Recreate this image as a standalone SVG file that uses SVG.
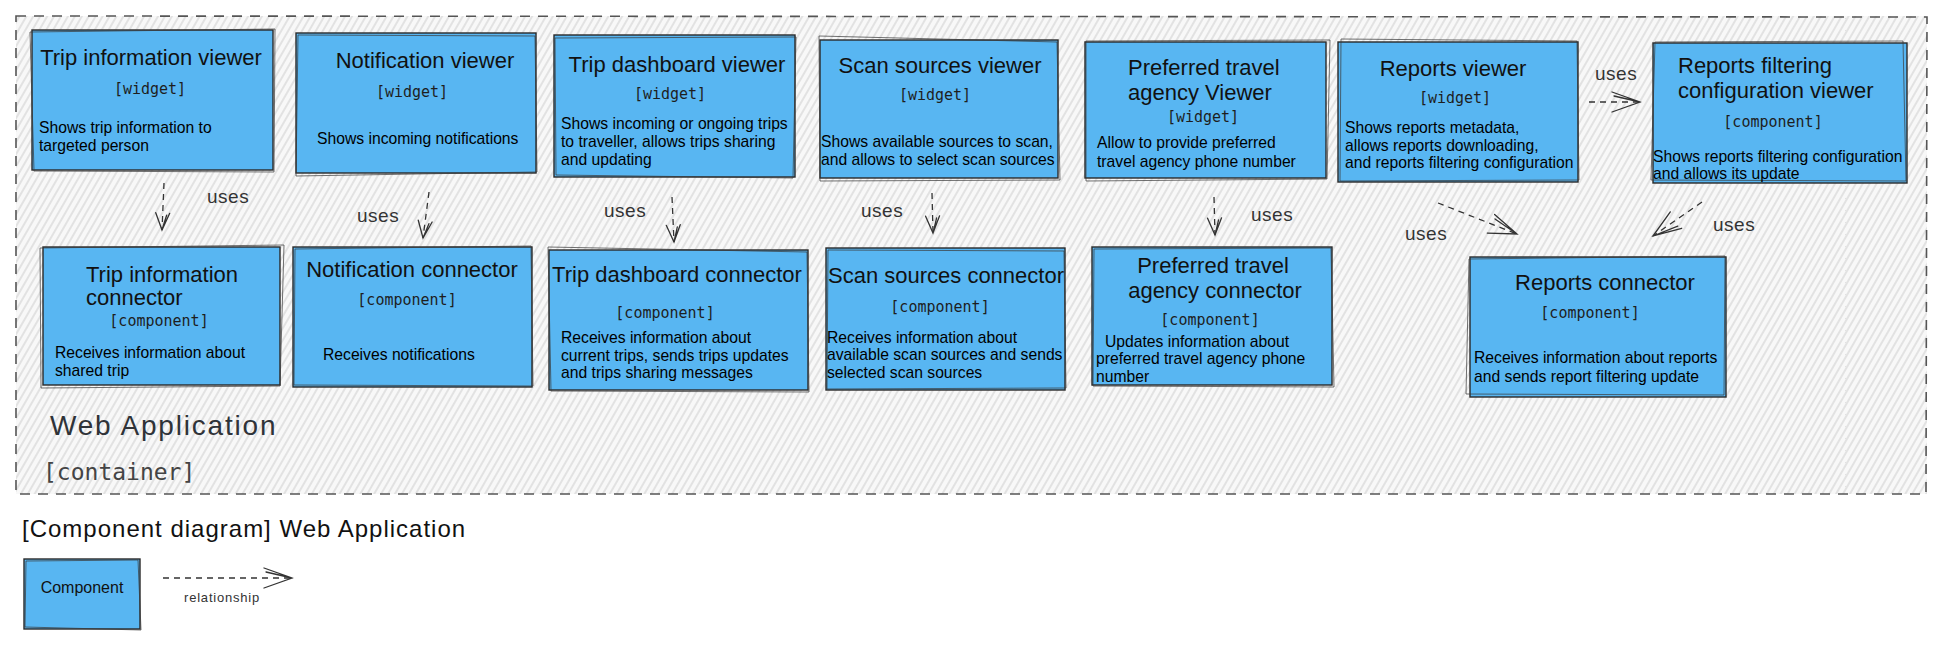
<svg xmlns="http://www.w3.org/2000/svg" width="1946" height="647" viewBox="0 0 1946 647">
<defs>
<pattern id="hatch" width="6" height="6" patternUnits="userSpaceOnUse" patternTransform="rotate(30)">
<rect width="6" height="6" fill="#f8f8f8"/>
<line x1="1" y1="0" x2="1" y2="6" stroke="#cdcdcd" stroke-width="1"/>
</pattern>
<marker id="arr" viewBox="-22 -12 26 24" markerWidth="26" markerHeight="24" refX="0" refY="0" orient="auto" markerUnits="userSpaceOnUse">
<path d="M-17,-7 L0,0 L-17,7 M-15,-4 L0,0" fill="none" stroke="#333" stroke-width="1.3" stroke-linecap="round"/>
</marker>
<marker id="arrL" viewBox="-32 -14 36 28" markerWidth="36" markerHeight="28" refX="0" refY="0" orient="auto" markerUnits="userSpaceOnUse">
<path d="M-28,-10 L0,0 L-28,10 M-26,-6 L0,0" fill="none" stroke="#333" stroke-width="1.3" stroke-linecap="round"/>
</marker>
</defs>
<style>
.fill{fill:#58b6f2;stroke:none}
.ln{fill:none;stroke:#2a2a2a;stroke-width:1.4}
.ln2{fill:none;stroke:#3a3a3a;stroke-width:0.9;opacity:0.8}
.ttl{font-family:"Liberation Sans","DejaVu Sans",sans-serif;font-size:22px;fill:#111}
.mid{text-anchor:middle}
.typ{font-family:"DejaVu Sans Mono","Liberation Mono",monospace;font-size:15px;fill:#1e1e1e;text-anchor:middle}
.dsc{font-family:"Liberation Sans",Arial,sans-serif;font-size:15.7px;fill:#000}
.con{fill:none;stroke:#333;stroke-width:1.3;stroke-dasharray:6 5}
.uses{font-family:"Liberation Sans","DejaVu Sans",sans-serif;font-size:19px;fill:#333;letter-spacing:0.5px}
</style>
<rect width="1946" height="647" fill="#ffffff"/>

<g id="container">
<rect x="16" y="16" width="1911" height="478" fill="url(#hatch)" stroke="none"/>
<path d="M16,16 L1927,17 L1926,494 L16,494 Z" fill="none" stroke="#555" stroke-width="1.6" stroke-dasharray="10 8"/>
<text x="50" y="435" style="font-family:'Liberation Sans',sans-serif;font-size:28px;fill:#2f3338;letter-spacing:1.8px">Web Application</text>
<text x="43" y="480" style="font-family:'DejaVu Sans Mono','Liberation Mono',monospace;font-size:23px;fill:#444">[container]</text>
</g>

<g id="node-trip-information-viewer">
<rect class="fill" x="32" y="30" width="241" height="140"/>
<rect class="ln" x="32" y="30" width="241" height="140"/>
<path class="ln2" d="M30,32 L275,29 L274,172 L34,171 Z"/>
<text class="ttl mid" x="151" y="65">Trip information viewer</text>
<text class="typ" x="150" y="94">[widget]</text>
<text class="dsc" x="39" y="133">Shows trip information to</text>
<text class="dsc" x="39" y="151">targeted person</text>
</g>

<g id="node-notification-viewer">
<rect class="fill" x="296" y="33" width="240" height="140"/>
<rect class="ln" x="296" y="33" width="240" height="140"/>
<path class="ln2" d="M298,35 L535,36 L537,172 L296,176 Z"/>
<text class="ttl mid" x="425" y="68">Notification viewer</text>
<text class="typ" x="412" y="97">[widget]</text>
<text class="dsc" x="317" y="144">Shows incoming notifications</text>
</g>

<g id="node-trip-dashboard-viewer">
<rect class="fill" x="554" y="35" width="241" height="142"/>
<rect class="ln" x="554" y="35" width="241" height="142"/>
<path class="ln2" d="M555,38 L796,37 L793,178 L556,175 Z"/>
<text class="ttl mid" x="677" y="72">Trip dashboard viewer</text>
<text class="typ" x="670" y="99">[widget]</text>
<text class="dsc" x="561" y="129">Shows incoming or ongoing trips</text>
<text class="dsc" x="561" y="147">to traveller, allows trips sharing</text>
<text class="dsc" x="561" y="165">and updating</text>
</g>

<g id="node-scan-sources-viewer">
<rect class="fill" x="820" y="40" width="238" height="138"/>
<rect class="ln" x="820" y="40" width="238" height="138"/>
<path class="ln2" d="M819,36 L1057,42 L1060,180 L820,181 Z"/>
<text class="ttl mid" x="940" y="73">Scan sources viewer</text>
<text class="typ" x="935" y="100">[widget]</text>
<text class="dsc" x="821" y="147">Shows available sources to scan,</text>
<text class="dsc" x="821" y="165">and allows to select scan sources</text>
</g>

<g id="node-preferred-travel-agency-viewer">
<rect class="fill" x="1085" y="42" width="241" height="136"/>
<rect class="ln" x="1085" y="42" width="241" height="136"/>
<path class="ln2" d="M1086,41 L1330,40 L1327,179 L1086,181 Z"/>
<text class="ttl" x="1128" y="75">Preferred travel</text>
<text class="ttl" x="1128" y="100">agency Viewer</text>
<text class="typ" x="1203" y="122">[widget]</text>
<text class="dsc" x="1097" y="148">Allow to provide preferred</text>
<text class="dsc" x="1097" y="167">travel agency phone number</text>
</g>

<g id="node-reports-viewer">
<rect class="fill" x="1338" y="42" width="240" height="140"/>
<rect class="ln" x="1338" y="42" width="240" height="140"/>
<path class="ln2" d="M1341,39 L1577,41 L1579,180 L1340,181 Z"/>
<text class="ttl mid" x="1453" y="76">Reports viewer</text>
<text class="typ" x="1455" y="103">[widget]</text>
<text class="dsc" x="1345" y="133">Shows reports metadata,</text>
<text class="dsc" x="1345" y="151">allows reports downloading,</text>
<text class="dsc" x="1345" y="168">and reports filtering configuration</text>
</g>

<g id="node-reports-filtering-configuration-viewer">
<rect class="fill" x="1653" y="43" width="254" height="140"/>
<rect class="ln" x="1653" y="43" width="254" height="140"/>
<path class="ln2" d="M1655,42 L1903,41 L1906,181 L1651,180 Z"/>
<text class="ttl" x="1678" y="73">Reports filtering</text>
<text class="ttl" x="1678" y="98">configuration viewer</text>
<text class="typ" x="1773" y="127">[component]</text>
<text class="dsc" x="1653" y="162">Shows reports filtering configuration</text>
<text class="dsc" x="1653" y="179">and allows its update</text>
</g>

<g id="node-trip-information-connector">
<rect class="fill" x="43" y="247" width="237" height="138"/>
<rect class="ln" x="43" y="247" width="237" height="138"/>
<path class="ln2" d="M40,248 L284,245 L280,386 L41,388 Z"/>
<text class="ttl" x="86" y="282">Trip information</text>
<text class="ttl" x="86" y="305">connector</text>
<text class="typ" x="159" y="326">[component]</text>
<text class="dsc" x="55" y="358">Receives information about</text>
<text class="dsc" x="55" y="376">shared trip</text>
</g>

<g id="node-notification-connector">
<rect class="fill" x="293" y="247" width="239" height="140"/>
<rect class="ln" x="293" y="247" width="239" height="140"/>
<path class="ln2" d="M295,249 L531,246 L533,386 L294,385 Z"/>
<text class="ttl mid" x="412" y="277">Notification connector</text>
<text class="typ" x="407" y="305">[component]</text>
<text class="dsc" x="323" y="360">Receives notifications</text>
</g>

<g id="node-trip-dashboard-connector">
<rect class="fill" x="549" y="250" width="259" height="140"/>
<rect class="ln" x="549" y="250" width="259" height="140"/>
<path class="ln2" d="M548,247 L807,252 L809,392 L551,391 Z"/>
<text class="ttl mid" x="677" y="282">Trip dashboard connector</text>
<text class="typ" x="665" y="318">[component]</text>
<text class="dsc" x="561" y="343">Receives information about</text>
<text class="dsc" x="561" y="361">current trips, sends trips updates</text>
<text class="dsc" x="561" y="378">and trips sharing messages</text>
</g>

<g id="node-scan-sources-connector">
<rect class="fill" x="826" y="248" width="239" height="142"/>
<rect class="ln" x="826" y="248" width="239" height="142"/>
<path class="ln2" d="M828,250 L1064,251 L1066,388 L827,389 Z"/>
<text class="ttl mid" x="946" y="283">Scan sources connector</text>
<text class="typ" x="940" y="312">[component]</text>
<text class="dsc" x="827" y="343">Receives information about</text>
<text class="dsc" x="827" y="360">available scan sources and sends</text>
<text class="dsc" x="827" y="378">selected scan sources</text>
</g>

<g id="node-preferred-travel-agency-connector">
<rect class="fill" x="1092" y="247" width="240" height="138"/>
<rect class="ln" x="1092" y="247" width="240" height="138"/>
<path class="ln2" d="M1094,249 L1331,248 L1334,387 L1093,386 Z"/>
<text class="ttl mid" x="1213" y="273">Preferred travel</text>
<text class="ttl mid" x="1215" y="298">agency connector</text>
<text class="typ" x="1210" y="325">[component]</text>
<text class="dsc" x="1105" y="347">Updates information about</text>
<text class="dsc" x="1096" y="364">preferred travel agency phone</text>
<text class="dsc" x="1096" y="382">number</text>
</g>

<g id="node-reports-connector">
<rect class="fill" x="1470" y="257" width="256" height="140"/>
<rect class="ln" x="1470" y="257" width="256" height="140"/>
<path class="ln2" d="M1469,259 L1725,256 L1724,395 L1466,394 Z"/>
<text class="ttl mid" x="1605" y="290">Reports connector</text>
<text class="typ" x="1590" y="318">[component]</text>
<text class="dsc" x="1474" y="363">Receives information about reports</text>
<text class="dsc" x="1474" y="382">and sends report filtering update</text>
</g>

<g id="connectors">
<path class="con" d="M164,183 L162,230" marker-end="url(#arr)"/>
<text class="uses" x="207" y="203">uses</text>
<path class="con" d="M429,192 L423,238" marker-end="url(#arr)"/>
<text class="uses" x="357" y="222">uses</text>
<path class="con" d="M672,197 L674,242" marker-end="url(#arr)"/>
<text class="uses" x="604" y="217">uses</text>
<path class="con" d="M932,193 L933,233" marker-end="url(#arr)"/>
<text class="uses" x="861" y="217">uses</text>
<path class="con" d="M1214,197 L1215,235" marker-end="url(#arr)"/>
<text class="uses" x="1251" y="221">uses</text>
<path class="con" d="M1438,203 L1517,234" marker-end="url(#arrL)"/>
<text class="uses" x="1405" y="240">uses</text>
<path class="con" d="M1702,202 L1653,236" marker-end="url(#arrL)"/>
<text class="uses" x="1713" y="231">uses</text>
<path class="con" d="M1589,102 L1640,102" marker-end="url(#arrL)"/>
<text class="uses" x="1595" y="80">uses</text>
</g>

<g id="legend">
<text x="22" y="537" style="font-family:'Liberation Sans',sans-serif;font-size:24px;fill:#111;letter-spacing:1px">[Component diagram] Web Application</text>
<g id="legend-component">
<rect class="fill" x="24" y="559" width="116" height="70"/>
<rect class="ln" x="24" y="559" width="116" height="70"/>
<path class="ln2" d="M26,561 L138,560 L141,630 L25,627 Z"/>
<text x="82" y="593" style="font-family:'Liberation Sans',sans-serif;font-size:16px;fill:#111;text-anchor:middle">Component</text>
</g>
<g id="legend-relationship">
<path class="con" d="M163,578 L292,578" marker-end="url(#arrL)"/>
<text x="184" y="602" style="font-family:'Liberation Sans',sans-serif;font-size:13px;fill:#333;letter-spacing:0.8px">relationship</text>
</g>
</g>
</svg>
